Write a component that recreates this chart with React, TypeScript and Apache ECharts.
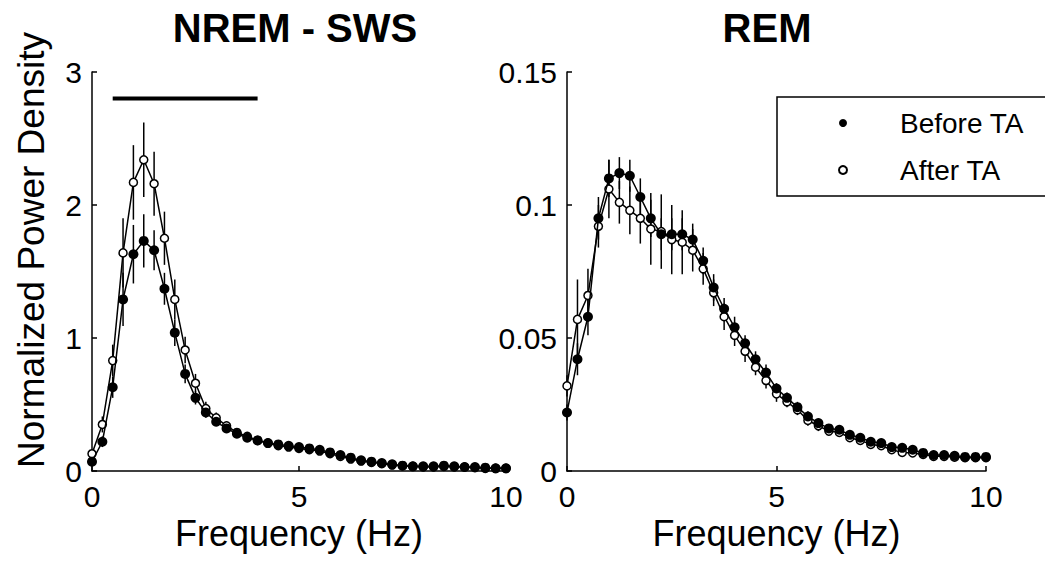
import React, { useEffect, useRef } from "react";
import * as echarts from "echarts";

const FONT = "'Liberation Sans', Arial, Helvetica, sans-serif";

const freq = [0, 0.25, 0.5, 0.75, 1, 1.25, 1.5, 1.75, 2, 2.25, 2.5, 2.75, 3, 3.25, 3.5, 3.75, 4, 4.25, 4.5, 4.75, 5, 5.25, 5.5, 5.75, 6, 6.25, 6.5, 6.75, 7, 7.25, 7.5, 7.75, 8, 8.25, 8.5, 8.75, 9, 9.25, 9.5, 9.75, 10];

const nremBefore = [0.07, 0.22, 0.63, 1.29, 1.63, 1.73, 1.66, 1.37, 1.04, 0.73, 0.55, 0.44, 0.37, 0.32, 0.28, 0.25, 0.23, 0.21, 0.2, 0.19, 0.18, 0.17, 0.16, 0.14, 0.12, 0.1, 0.08, 0.07, 0.06, 0.05, 0.04, 0.035, 0.035, 0.035, 0.04, 0.035, 0.03, 0.03, 0.025, 0.02, 0.02];
const nremAfter = [0.13, 0.35, 0.83, 1.64, 2.17, 2.34, 2.16, 1.75, 1.29, 0.91, 0.66, 0.47, 0.4, 0.34, 0.29, 0.26, 0.23, 0.21, 0.19, 0.18, 0.17, 0.16, 0.15, 0.13, 0.11, 0.09, 0.075, 0.065, 0.055, 0.045, 0.04, 0.035, 0.03, 0.03, 0.035, 0.03, 0.03, 0.025, 0.02, 0.02, 0.02];
const nremBeforeErr = [0.02, 0.04, 0.08, 0.2, 0.22, 0.2, 0.15, 0.12, 0.1, 0.07, 0.05, 0.04, 0.03, 0.03, 0.02, 0.02, 0.02, 0.02, 0.02, 0.02, 0.02, 0.02, 0.02, 0.02, 0.02, 0.01, 0.01, 0.01, 0.01, 0.01, 0.01, 0.01, 0.01, 0.01, 0.01, 0.01, 0.01, 0.01, 0.01, 0.01, 0.01];
const nremAfterErr = [0.03, 0.06, 0.12, 0.26, 0.28, 0.28, 0.24, 0.2, 0.15, 0.1, 0.07, 0.05, 0.04, 0.03, 0.03, 0.02, 0.02, 0.02, 0.02, 0.02, 0.02, 0.02, 0.02, 0.02, 0.02, 0.01, 0.01, 0.01, 0.01, 0.01, 0.01, 0.01, 0.01, 0.01, 0.01, 0.01, 0.01, 0.01, 0.01, 0.01, 0.01];

const remBefore = [0.022, 0.042, 0.058, 0.095, 0.11, 0.112, 0.111, 0.103, 0.095, 0.089, 0.089, 0.089, 0.087, 0.079, 0.069, 0.061, 0.054, 0.048, 0.042, 0.037, 0.031, 0.0275, 0.024, 0.0205, 0.018, 0.016, 0.0155, 0.0136, 0.0125, 0.011, 0.0105, 0.009, 0.0087, 0.008, 0.0068, 0.006, 0.006, 0.0057, 0.0053, 0.0053, 0.0053];
const remAfter = [0.032, 0.057, 0.066, 0.092, 0.106, 0.101, 0.098, 0.095, 0.091, 0.09, 0.087, 0.086, 0.083, 0.076, 0.067, 0.058, 0.051, 0.045, 0.039, 0.034, 0.029, 0.026, 0.023, 0.019, 0.017, 0.015, 0.0145, 0.0125, 0.0115, 0.01, 0.0095, 0.008, 0.007, 0.0068, 0.0062, 0.0055, 0.0055, 0.0052, 0.005, 0.005, 0.005];
const remBeforeErr = [0.003, 0.006, 0.007, 0.008, 0.007, 0.006, 0.006, 0.007, 0.007, 0.006, 0.006, 0.006, 0.006, 0.005, 0.005, 0.004, 0.004, 0.003, 0.003, 0.003, 0.002, 0.002, 0.002, 0.002, 0.0015, 0.0015, 0.0015, 0.001, 0.001, 0.001, 0.001, 0.001, 0.001, 0.001, 0.001, 0.001, 0.001, 0.001, 0.001, 0.001, 0.001];
const remAfterErr = [0.004, 0.015, 0.01, 0.008, 0.011, 0.008, 0.009, 0.0095, 0.0135, 0.014, 0.013, 0.012, 0.008, 0.006, 0.005, 0.005, 0.004, 0.004, 0.003, 0.003, 0.003, 0.002, 0.002, 0.002, 0.002, 0.0015, 0.0015, 0.0015, 0.001, 0.001, 0.001, 0.001, 0.001, 0.001, 0.001, 0.001, 0.001, 0.001, 0.001, 0.001, 0.001];

// significance bar (Hz range, level)
const sigBarX = [0.5, 4];
const sigBarY = 2.8;

const panelTitles = ["NREM - SWS", "REM"];
const yAxisTitle = "Normalized Power Density";
const xAxisTitle = "Frequency (Hz)";
const xTicks = { min: 0, max: 10, interval: 5 };
const nremY = { min: 0, max: 3, interval: 1 };
const remY = { min: 0, max: 0.15, interval: 0.05 };

const seriesNames = ["Before TA", "After TA"];

function pairs(xs: number[], ys: number[]) {
  return xs.map((x, i) => [x, ys[i]]);
}
function errData(xs: number[], ys: number[], es: number[]) {
  return xs.map((x, i) => [x, ys[i] - es[i], ys[i] + es[i]]);
}

const renderErr = (params: any, api: any) => {
  const x = api.value(0);
  const p1 = api.coord([x, api.value(1)]);
  const p2 = api.coord([x, api.value(2)]);
  return {
    type: "line",
    shape: { x1: p1[0], y1: p1[1], x2: p2[0], y2: p2[1] },
    style: { stroke: "#000", lineWidth: 1.5 },
  };
};

export default function App() {
  const ref = useRef<HTMLDivElement>(null);
  useEffect(() => {
    document.body.style.margin = "0";
    if (!ref.current) return;
    const chart = echarts.init(ref.current, null, { renderer: "svg" });

    const axisCommon = {
      axisLine: { lineStyle: { color: "#000", width: 1.5 } },
      axisTick: { inside: true, length: 5, lineStyle: { color: "#000", width: 1.5 } },
      splitLine: { show: false },
      axisLabel: { color: "#000", fontSize: 30, fontFamily: FONT, margin: 10 },
      nameTextStyle: { color: "#000", fontSize: 36, fontFamily: FONT },
    };

    const errSeries = (idx: number, data: any[]) => ({
      type: "custom",
      xAxisIndex: idx,
      yAxisIndex: idx,
      renderItem: renderErr,
      encode: { x: 0, y: [1, 2] },
      data,
      silent: true,
      z: 1,
    });

    const afterSeries = (idx: number, data: any[]) => ({
      name: seriesNames[1],
      type: "line",
      xAxisIndex: idx,
      yAxisIndex: idx,
      data,
      symbol: "circle",
      symbolSize: 8,
      itemStyle: { color: "#fff", borderColor: "#000", borderWidth: 1.5 },
      lineStyle: { color: "#000", width: 1.5 },
      z: 2,
    });
    const beforeSeries = (idx: number, data: any[]) => ({
      name: seriesNames[0],
      type: "line",
      xAxisIndex: idx,
      yAxisIndex: idx,
      data,
      symbol: "circle",
      symbolSize: 10,
      itemStyle: { color: "#000", borderColor: "#000", borderWidth: 0 },
      lineStyle: { color: "#000", width: 1.5 },
      z: 3,
    });

    chart.setOption({
      animation: false,
      backgroundColor: "#fff",
      textStyle: { fontFamily: FONT },
      grid: [
        { left: 92, top: 72, width: 414, height: 399 },
        { left: 567, top: 72, width: 419, height: 399 },
      ],
      xAxis: [0, 1].map((i) => ({
        ...axisCommon,
        type: "value",
        gridIndex: i,
        min: xTicks.min,
        max: xTicks.max,
        interval: xTicks.interval,
        name: xAxisTitle,
        nameLocation: "middle",
        nameGap: 37,
      })),
      yAxis: [
        {
          ...axisCommon,
          type: "value",
          gridIndex: 0,
          min: nremY.min,
          max: nremY.max,
          interval: nremY.interval,
        },
        {
          ...axisCommon,
          type: "value",
          gridIndex: 1,
          min: remY.min,
          max: remY.max,
          interval: remY.interval,
        },
      ],
      legend: {
        orient: "vertical",
        left: 777,
        top: 97,
        padding: [12, 120, 12, 61],
        itemGap: 19,
        itemWidth: 8,
        itemHeight: 8,
        borderColor: "#000",
        borderWidth: 1.5,
        borderRadius: 0,
        data: [
          { name: seriesNames[0], icon: "circle" },
          { name: seriesNames[1], icon: "circle" },
        ],
        textStyle: { color: "#000", fontSize: 28, fontFamily: FONT, padding: [0, 0, 0, 48] },
        selectedMode: false,
      },
      graphic: [
        {
          type: "text",
          x: 295,
          y: 8,
          style: { text: panelTitles[0], align: "center", verticalAlign: "top", fontSize: 40, fontWeight: "bold", fontFamily: FONT, fill: "#000" },
        },
        {
          type: "text",
          x: 767,
          y: 8,
          style: { text: panelTitles[1], align: "center", verticalAlign: "top", fontSize: 40, fontWeight: "bold", fontFamily: FONT, fill: "#000" },
        },
        {
          type: "text",
          x: 31,
          y: 250,
          rotation: Math.PI / 2,
          style: { text: yAxisTitle, align: "center", verticalAlign: "middle", fontSize: 37, fontFamily: FONT, fill: "#000" },
        },
      ],
      series: [
        {
          type: "line",
          xAxisIndex: 0,
          yAxisIndex: 0,
          data: sigBarX.map((x) => [x, sigBarY]),
          symbol: "none",
          lineStyle: { color: "#000", width: 4 },
          silent: true,
          z: 4,
        },
        errSeries(0, errData(freq, nremAfter, nremAfterErr)),
        errSeries(0, errData(freq, nremBefore, nremBeforeErr)),
        afterSeries(0, pairs(freq, nremAfter)),
        beforeSeries(0, pairs(freq, nremBefore)),
        errSeries(1, errData(freq, remAfter, remAfterErr)),
        errSeries(1, errData(freq, remBefore, remBeforeErr)),
        afterSeries(1, pairs(freq, remAfter)),
        beforeSeries(1, pairs(freq, remBefore)),
      ],
    });
    return () => chart.dispose();
  }, []);
  return <div ref={ref} style={{ width: 1045, height: 572 }} />;
}
